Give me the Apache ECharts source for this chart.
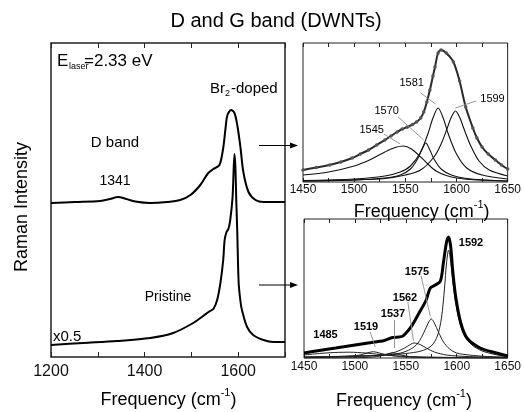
<!DOCTYPE html>
<html><head><meta charset="utf-8">
<script src="https://cdn.jsdelivr.net/npm/echarts@6/dist/echarts.min.js"></script>
<style>html,body{margin:0;padding:0;background:#fff}#c{width:524px;height:412px}</style>
</head><body><div id="c"></div>
<script>
// ---- Main panel (x: frequency cm-1, y: relative intensity) ----
const dopedFreq = [1200,1251,1305,1326,1343,1361,1380,1412,1448,1476,1498,1519,1536,1547,1560,1568,1573,1577,1585,1592,1598,1605,1611,1622,1637,1654,1700];
const dopedVal  = [154,155,156,158,160,158,155.5,154,155,157,162,172,184,188,192,209,229,242,247,244,232,209,185,165,157,155,155];
const priFreq = [1200,1269,1341,1412,1461,1504,1525,1540,1547,1555,1562,1568,1571,1575,1579,1583,1588,1592,1594,1596,1598,1601,1605,1608,1619,1632,1654,1675,1700];
const priVal  = [12,14,16,19,24,34,41,46,48,57,74,97,117,125,128,137,160,203,190,155,125,74,55,47,30,22,17,15,15];
const mainTicks = [1200,1400,1600];

// ---- Top inset: Br2-doped fit ----
const topEnvFreq = [1450,1463,1476,1487,1498,1506,1514,1522,1530,1536,1542,1547,1552,1557,1561,1565,1568,1571,1574,1577,1579,1582,1585,1590,1597,1603,1609,1616,1620,1625,1631,1638,1644,1650];
const topEnvVal  = [12,14.5,17,20,24,28,32,37,42,46,50,53,55,57.5,60,64,70,80,92,106,115,129,132,129,120,101,75,54,44,35,28,22,17,13];
const t1545Freq = [1450,1475,1500,1515,1530,1540,1548,1556,1565,1572,1580,1590,1600,1620,1650];
const t1545Val  = [7,10,16,22,30,34.5,36,33,25,18,11,6.5,4,2,1];
const t1570Freq = [1450,1500,1530,1545,1555,1562,1566,1570,1574,1578,1585,1595,1610,1630,1650];
const t1570Val  = [1,2,4,7,13,23,32,39,32,23,13,7,3.5,2,1];
const t1581Freq = [1450,1500,1530,1545,1555,1565,1572,1577,1582,1587,1592,1600,1610,1625,1650];
const t1581Val  = [1.5,3,6,10,16,30,48,64,74,64,48,28,14,7,3];
const t1599Freq = [1450,1500,1530,1550,1565,1578,1585,1591,1595,1599,1603,1607,1614,1622,1632,1650];
const t1599Val  = [1,2,3.5,7,12,25,38,54,65,71,65,54,36,21,12,6];

// ---- Bottom inset: pristine fit ----
const botEnvFreq = [1450,1465,1481,1497,1513,1529,1537,1546,1555,1563,1570,1574,1579,1584,1587,1590,1592,1594,1596,1599,1604,1610,1623,1639,1650];
const botEnvVal  = [5,7.5,10,12.5,15,17.5,20.5,21.5,31,45,58,70,73,77,96,116,121,112,88,61,35,20,10,5,2];
const b1592Freq = [1450,1500,1530,1550,1565,1575,1581,1585,1588,1590,1592,1594,1596,1599,1603,1608,1615,1625,1640,1650];
const b1592Val  = [1,2,3,4.5,7,12,22,40,70,95,108,97,78,55,35,22,13,7,3,2];
const b1575Freq = [1450,1510,1530,1545,1555,1562,1568,1572,1575,1578,1582,1587,1593,1600,1612,1630,1650];
const b1575Val  = [1,2,3,5,9,15,26,35,39,35,26,16,9,5,3,1.5,1];
const b1562Freq = [1450,1500,1520,1535,1545,1552,1558,1564,1570,1578,1590,1610,1650];
const b1562Val  = [0.5,1.5,2.5,4.5,8,12,15,13.5,10,6,3,1.5,0.5];
const b1537Freq = [1450,1510,1525,1532,1537,1542,1550,1565,1650];
const b1537Val  = [0,0.5,2,4,5.3,4,2,0.5,0];
const b1519Freq = [1450,1490,1505,1512,1518,1524,1532,1550,1650];
const b1519Val  = [0.5,1.5,3,5,6.3,5,3,1,0];
const b1485Freq = [1450,1465,1480,1495,1510,1525,1540,1560,1600,1650];
const b1485Val  = [3,4.5,5.5,5.8,5,3.5,2.2,1.2,0.5,0];

// leader lines [[f1,v1],[f2,v2]]
const topLeaders = [[[1529,48],[1545,38]],[[1543,65],[1568,42]],[[1565,89],[1579.5,78]],[[1619,81],[1599,74]]];
const botLeaders = [[[1565,82],[1574,42]],[[1552,56],[1557.5,17]],[[1538.5,38],[1538.5,10]],[[1515,26],[1520,11]]];

const FF = '"Liberation Sans", Arial, Helvetica, sans-serif';
const zip = (a,b)=>a.map((f,i)=>[f,b[i]]);

function line(x, y, fs, vs, w, color, extra){
  return Object.assign({type:'line', xAxisIndex:x, yAxisIndex:y, data:zip(fs,vs), smooth:0.3,
    symbol:'none', silent:true, lineStyle:{width:w, color:color}, z:3}, extra||{});
}
function leaderML(arr){
  return {silent:true, symbol:['none','none'], animation:false, label:{show:false},
    lineStyle:{color:'#8a8a8a', width:0.9, type:'solid'},
    data: arr.map(p=>[{coord:p[0]},{coord:p[1]}])};
}
function xa(grid, min, max, interval, pos, showLabel, fmt, fs, margin, tickLen){
  return {type:'value', gridIndex:grid, min:min, max:max, interval:interval, position:pos,
    axisLine:{show:false}, splitLine:{show:false},
    axisTick:{show:true, inside:true, length:tickLen, lineStyle:{color:'#222', width:1}},
    axisLabel:{show:showLabel, formatter:fmt, fontSize:fs, fontFamily:FF, color:'#111', margin:margin,
      showMinLabel:true, showMaxLabel:true}};
}
const mainFmt = v => mainTicks.indexOf(v) >= 0 ? String(v) : '';
const insetFmt = v => (v % 50 === 0) ? String(v) : '';

function txt(x, y, text, size, opts){
  opts = opts||{};
  return {type:'text', x:x, y:y, rotation:opts.rot||0, silent:true,
    style:{text:text, fontSize:size, fontFamily:FF, fontWeight:opts.bold?'bold':'normal', fill:opts.fill||'#000',
      align:opts.align||'center', verticalAlign:'middle', rich:opts.rich}};
}
function freqTitle(x, y){
  return txt(x, y, '{m|Frequency (cm}{s|-1}{m|)}', 18, {rich:{
    m:{fontSize:18, fontFamily:FF, fill:'#000', verticalAlign:'bottom', lineHeight:22},
    s:{fontSize:11, fontFamily:FF, fill:'#000', verticalAlign:'top', lineHeight:22}}});
}
function arrow(y){
  return [{type:'line', silent:true, shape:{x1:259, y1:y, x2:292, y2:y}, style:{stroke:'#000', lineWidth:1}},
          {type:'polygon', silent:true, shape:{points:[[290,y-3],[298,y],[290,y+3]]}, style:{fill:'#000'}}];
}

const chart = echarts.init(document.getElementById('c'), null, {renderer:'canvas'});
const option = {
  animation:false,
  backgroundColor:'#fff',
  grid:[
    {left:51, top:43, width:234, height:314, show:true, borderColor:'#222', borderWidth:1.5, containLabel:false},
    {left:303, top:43, width:209, height:139, show:true, borderColor:'#222', borderWidth:1, containLabel:false},
    {left:304, top:219, width:208, height:139, show:true, borderColor:'#222', borderWidth:1, containLabel:false}
  ],
  xAxis:[
    xa(0,1200,1700,100,'bottom',true,mainFmt,16,7,5),
    xa(0,1200,1700,100,'top',false,mainFmt,16,7,5),
    xa(1,1450,1650,25,'bottom',true,insetFmt,12,2,4),
    xa(1,1450,1650,25,'top',false,insetFmt,12,2,4),
    xa(2,1450,1650,25,'bottom',true,insetFmt,12,3,4),
    xa(2,1450,1650,25,'top',false,insetFmt,12,3,4)
  ],
  yAxis:[
    {type:'value', gridIndex:0, min:0, max:314, show:false},
    {type:'value', gridIndex:1, min:0, max:139, show:false},
    {type:'value', gridIndex:2, min:0, max:139, show:false}
  ],
  series:[
    line(0,0,dopedFreq,dopedVal,2,'#000'),
    line(0,0,priFreq,priVal,2,'#000'),
    line(2,1,topEnvFreq,topEnvVal,2,'#2a2a2a',{symbol:'circle', symbolSize:3.5, showSymbol:true, itemStyle:{color:'#555'}, z:4}),
    line(2,1,t1545Freq,t1545Val,1.1,'#111',{markLine:leaderML(topLeaders)}),
    line(2,1,t1570Freq,t1570Val,1.1,'#111'),
    line(2,1,t1581Freq,t1581Val,1.1,'#111'),
    line(2,1,t1599Freq,t1599Val,1.1,'#111'),
    line(4,2,botEnvFreq,botEnvVal,3,'#000',{z:4}),
    line(4,2,b1592Freq,b1592Val,1,'#222',{markLine:leaderML(botLeaders)}),
    line(4,2,b1575Freq,b1575Val,1,'#222'),
    line(4,2,b1562Freq,b1562Val,1,'#222'),
    line(4,2,b1537Freq,b1537Val,1,'#222'),
    line(4,2,b1519Freq,b1519Val,1,'#222'),
    line(4,2,b1485Freq,b1485Val,1,'#222')
  ],
  graphic:[
    txt(276,21,'D and G band (DWNTs)',20),
    txt(22,207,'Raman Intensity',18,{rot:Math.PI/2}),
    freqTitle(168.5,398),
    freqTitle(421.7,210),
    freqTitle(404,399),
    txt(57,61,'E',17,{align:'left'}),
    txt(69,66.5,'laser',9,{align:'left'}),
    txt(84,61,'=2.33 eV',17,{align:'left'}),
    txt(210,89,'Br',15,{align:'left'}),
    txt(225,94,'2',9,{align:'left'}),
    txt(231,89,'-doped',15,{align:'left'}),
    txt(115,143,'D band',15),
    txt(115,181,'1341',14),
    txt(168,297,'Pristine',14),
    txt(53,337,'x0.5',15,{align:'left'}),
    txt(371.7,130,'1545',11),
    txt(386.7,111,'1570',11),
    txt(411.7,83,'1581',11),
    txt(492.5,99,'1599',11),
    txt(471,242.5,'1592',11,{bold:true}),
    txt(417,271.7,'1575',11,{bold:true}),
    txt(405,298,'1562',11,{bold:true}),
    txt(393,314,'1537',11,{bold:true}),
    txt(366,326.7,'1519',11,{bold:true}),
    txt(325.5,335,'1485',11,{bold:true})
  ].concat(arrow(145.5), arrow(285))
};
chart.setOption(option);
</script></body></html>
